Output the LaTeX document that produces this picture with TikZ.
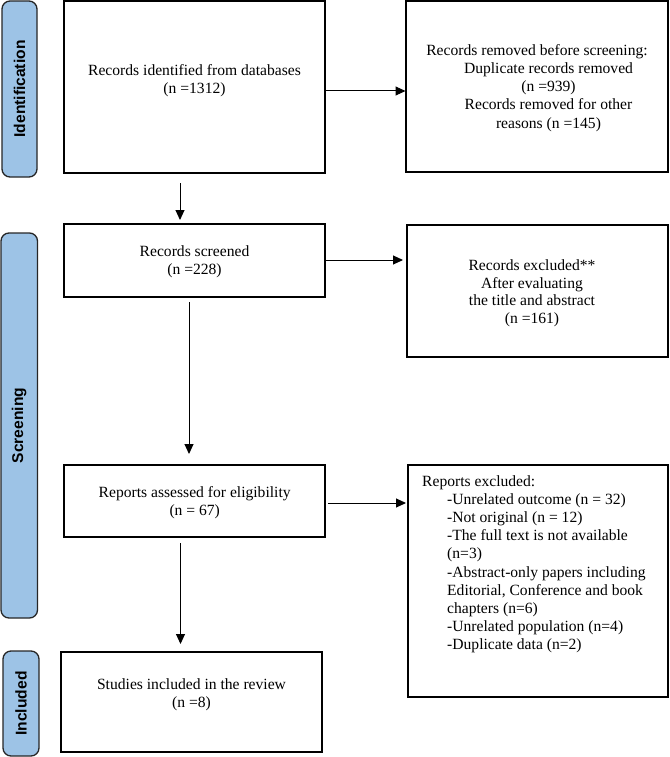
\documentclass[tikz,border=0pt]{standalone}
\usepackage{fontspec}
\setmainfont{Liberation Serif}
\newfontfamily\sidefont{Liberation Sans}
\usetikzlibrary{arrows.meta}
\definecolor{sidefill}{HTML}{9DC3E6}
\definecolor{sideline}{HTML}{262626}
\begin{document}
\begin{tikzpicture}[x=1pt,y=-1pt,
  box/.style={draw=black, line width=1.5pt, rectangle, inner sep=0pt, outer sep=0pt, anchor=north west},
  side/.style={draw=sideline, fill=sidefill, line width=1.3pt, rectangle, rounded corners=8pt, inner sep=0pt, outer sep=0pt, anchor=north west},
  sidelabel/.style={font=\sidefont\bfseries\fontsize{15.6}{18}\selectfont, rotate=90, inner sep=0pt},
  txt/.style={font=\fontsize{15.6}{18.2}\selectfont, align=center, inner sep=0pt},
  arr/.style={line width=1pt, -{Triangle[length=10pt,width=9pt]}}]
\useasboundingbox (0,0) rectangle (669,757);

% side bars
\node[side, minimum width=35pt, minimum height=176pt] (s1) at (2,1) {};
\node[side, minimum width=36.5pt, minimum height=385pt] (s2) at (1,233) {};
\node[side, minimum width=36pt, minimum height=105pt] (s3) at (3,651) {};
\node[sidelabel] (l1) at (s1.center) {Identification};
\node[sidelabel] (l2) at (s2.center) {Screening};
\node[sidelabel] (l3) at (s3.center) {Included};

% boxes
\node[box, minimum width=261pt, minimum height=172pt] (b1) at (64,1) {};
\node[box, minimum width=262pt, minimum height=171pt] (b2) at (406,1) {};
\node[box, minimum width=261pt, minimum height=73pt] (b3) at (64,224) {};
\node[box, minimum width=261pt, minimum height=132pt] (b4) at (407,225) {};
\node[box, minimum width=261pt, minimum height=72pt] (b5) at (64,465) {};
\node[box, minimum width=260pt, minimum height=232pt] (b6) at (408,465) {};
\node[box, minimum width=261pt, minimum height=100pt] (b7) at (61,652) {};

% texts
\node[txt] (t1) at (194.5,80.4) {Records identified from databases\\(n =1312)};
\node[txt] (t2) at (537,87.8) {Records removed before screening:\\
  \hspace*{23pt}Duplicate records removed\\
  \hspace*{23pt}(n =939)\\
  \hspace*{23pt}Records removed for other\\
  \hspace*{23pt}reasons (n =145)};
\node[txt] (t3) at (194.5,262) {Records screened\\(n =228)};
\node[txt, font=\fontsize{15.6}{17.5}\selectfont] (t4) at (532,293.3) {Records excluded**\\After evaluating\\the title and abstract\\(n =161)};
\node[txt] (t5) at (194.7,503) {Reports assessed for eligibility\\(n = 67)};
\node[txt, align=left, anchor=west] (t6) at (422,564.3) {Reports excluded:\\
  \hspace*{25pt}-Unrelated outcome (n = 32)\\
  \hspace*{25pt}-Not original (n = 12)\\
  \hspace*{25pt}-The full text is not available\\
  \hspace*{25pt}(n=3)\\
  \hspace*{25pt}-Abstract-only papers including\\
  \hspace*{25pt}Editorial, Conference and book\\
  \hspace*{25pt}chapters (n=6)\\
  \hspace*{25pt}-Unrelated population (n=4)\\
  \hspace*{25pt}-Duplicate data (n=2)};
\node[txt] (t7) at (191.5,694.7) {Studies included in the review\\(n =8)};

% connectors
\draw[arr, shorten >=0.5pt] ([yshift=-4pt]b1.east) -- ([yshift=-4pt]b1.east -| b2.west);
\draw[arr, shorten <=10pt, shorten >=4pt] ([xshift=-14.5pt]b1.south) -- ([xshift=-14.5pt]b1.south |- b3.north);
\draw[arr, shorten >=4pt] ([yshift=0.5pt]b3.east) -- ([yshift=0.5pt]b3.east -| b4.west);
\draw[arr, shorten <=5pt, shorten >=11pt] ([xshift=-5.5pt]b3.south) -- ([xshift=-5.5pt]b3.south |- b5.north);
\draw[arr, shorten <=3pt, shorten >=2pt] ([yshift=-2pt]b5.east) -- ([yshift=-2pt]b5.east -| b6.west);
\draw[arr, shorten <=6pt, shorten >=8pt] ([xshift=-14pt]b5.south) -- ([xshift=-14pt]b5.south |- b7.north);
\end{tikzpicture}
\end{document}
